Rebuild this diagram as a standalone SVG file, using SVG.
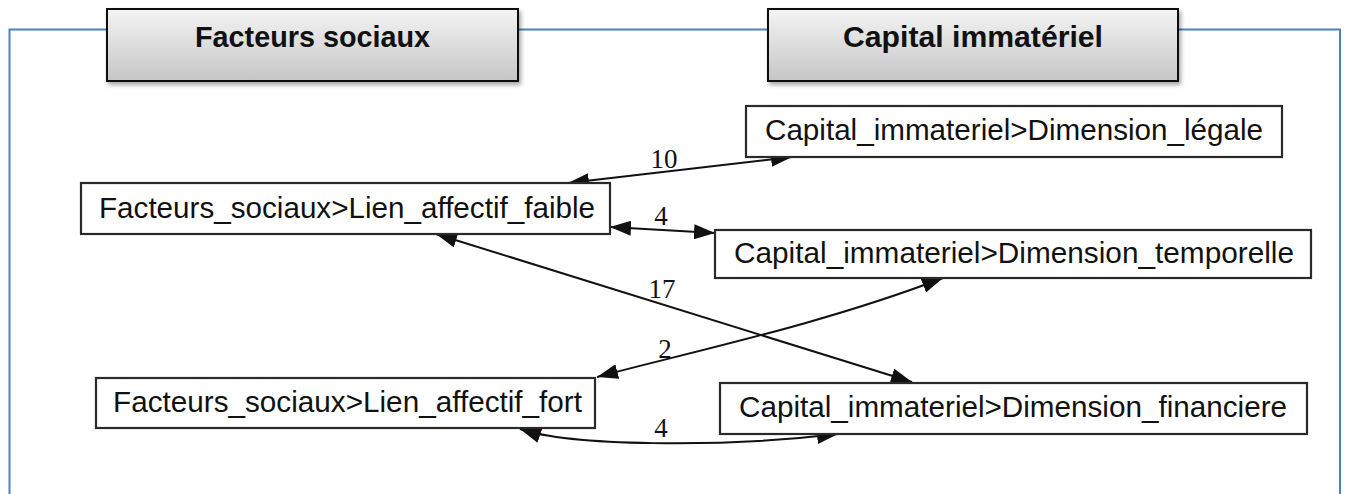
<svg xmlns="http://www.w3.org/2000/svg" width="1346" height="494" viewBox="0 0 1346 494">
  <defs>
    <linearGradient id="hdrFill" x1="0" y1="0" x2="0" y2="1">
      <stop offset="0" stop-color="#f4f4f4"/>
      <stop offset="1" stop-color="#c6c6c6"/>
    </linearGradient>
    <filter id="hdrShadow" x="-5%" y="-10%" width="112%" height="135%">
      <feDropShadow dx="2" dy="3" stdDeviation="2" flood-color="#000" flood-opacity="0.35"/>
    </filter>
    <marker id="arrow" viewBox="0 0 21 15" refX="21" refY="7.5" markerWidth="21" markerHeight="15" markerUnits="userSpaceOnUse" orient="auto-start-reverse">
      <path d="M0,0 L21,7.5 L0,15 z" fill="#111"/>
    </marker>
  </defs>
  <style>
    .frame { fill: none; stroke: #4f81bd; stroke-width: 2; }
    .hdr rect { fill: url(#hdrFill); stroke: #111; stroke-width: 2; filter: url(#hdrShadow); }
    .hdr text { font-family: "Liberation Sans", Arial, sans-serif; font-weight: bold; font-size: 29px; fill: #111; text-anchor: middle; }
    .node rect { fill: #fff; stroke: #2a2a2a; stroke-width: 2.2; }
    .node text { font-family: "Liberation Sans", Arial, sans-serif; font-size: 29.6px; fill: #111; }
    .edge { fill: none; stroke: #111; stroke-width: 2; marker-start: url(#arrow); marker-end: url(#arrow); }
    .elabel { font-family: "Liberation Serif", "Times New Roman", serif; font-size: 27px; fill: #111; text-anchor: middle; }
  </style>

  <!-- blue outline broken by the two headers -->
  <path class="frame" d="M9.5,494 V29.5 H107 M518,29.5 H768 M1178,29.5 H1340 V494"/>

  <g id="hdr-facteurs" class="hdr">
    <rect x="107" y="9" width="411" height="72"/>
    <text x="312.5" y="46.5" textLength="235" lengthAdjust="spacingAndGlyphs">Facteurs sociaux</text>
  </g>
  <g id="hdr-capital" class="hdr">
    <rect x="768" y="9" width="410" height="72"/>
    <text x="973" y="46.5" textLength="260" lengthAdjust="spacingAndGlyphs">Capital immatériel</text>
  </g>

  <!-- connectors -->
  <g id="connectors">
    <path class="edge" d="M568,183 L792,157"/>
    <path class="edge" d="M610,227 L715,233"/>
    <path class="edge" d="M436,234 L912,382"/>
    <path class="edge" d="M597,377 C690,352 820,325 943,278"/>
    <path class="edge" d="M520,429 C570,446 720,448 838,434"/>
    <text class="elabel" x="664" y="168">10</text>
    <text class="elabel" x="661" y="225">4</text>
    <text class="elabel" x="662" y="298">17</text>
    <text class="elabel" x="665" y="358">2</text>
    <text class="elabel" x="661" y="437">4</text>
  </g>

  <g id="n-lien-faible" class="node">
    <rect x="81" y="183" width="529" height="51"/>
    <text x="99" y="218" textLength="496" lengthAdjust="spacingAndGlyphs">Facteurs_sociaux&gt;Lien_affectif_faible</text>
  </g>
  <g id="n-lien-fort" class="node">
    <rect x="96" y="378" width="499" height="50"/>
    <text x="113" y="412" textLength="469" lengthAdjust="spacingAndGlyphs">Facteurs_sociaux&gt;Lien_affectif_fort</text>
  </g>
  <g id="n-dim-legale" class="node">
    <rect x="746" y="106" width="536" height="51"/>
    <text x="765" y="140" textLength="498" lengthAdjust="spacingAndGlyphs">Capital_immateriel&gt;Dimension_légale</text>
  </g>
  <g id="n-dim-temporelle" class="node">
    <rect x="715" y="230" width="596" height="48"/>
    <text x="734" y="263" textLength="560" lengthAdjust="spacingAndGlyphs">Capital_immateriel&gt;Dimension_temporelle</text>
  </g>
  <g id="n-dim-financiere" class="node">
    <rect x="720" y="383" width="587" height="51"/>
    <text x="739" y="417" textLength="548" lengthAdjust="spacingAndGlyphs">Capital_immateriel&gt;Dimension_financiere</text>
  </g>
</svg>
